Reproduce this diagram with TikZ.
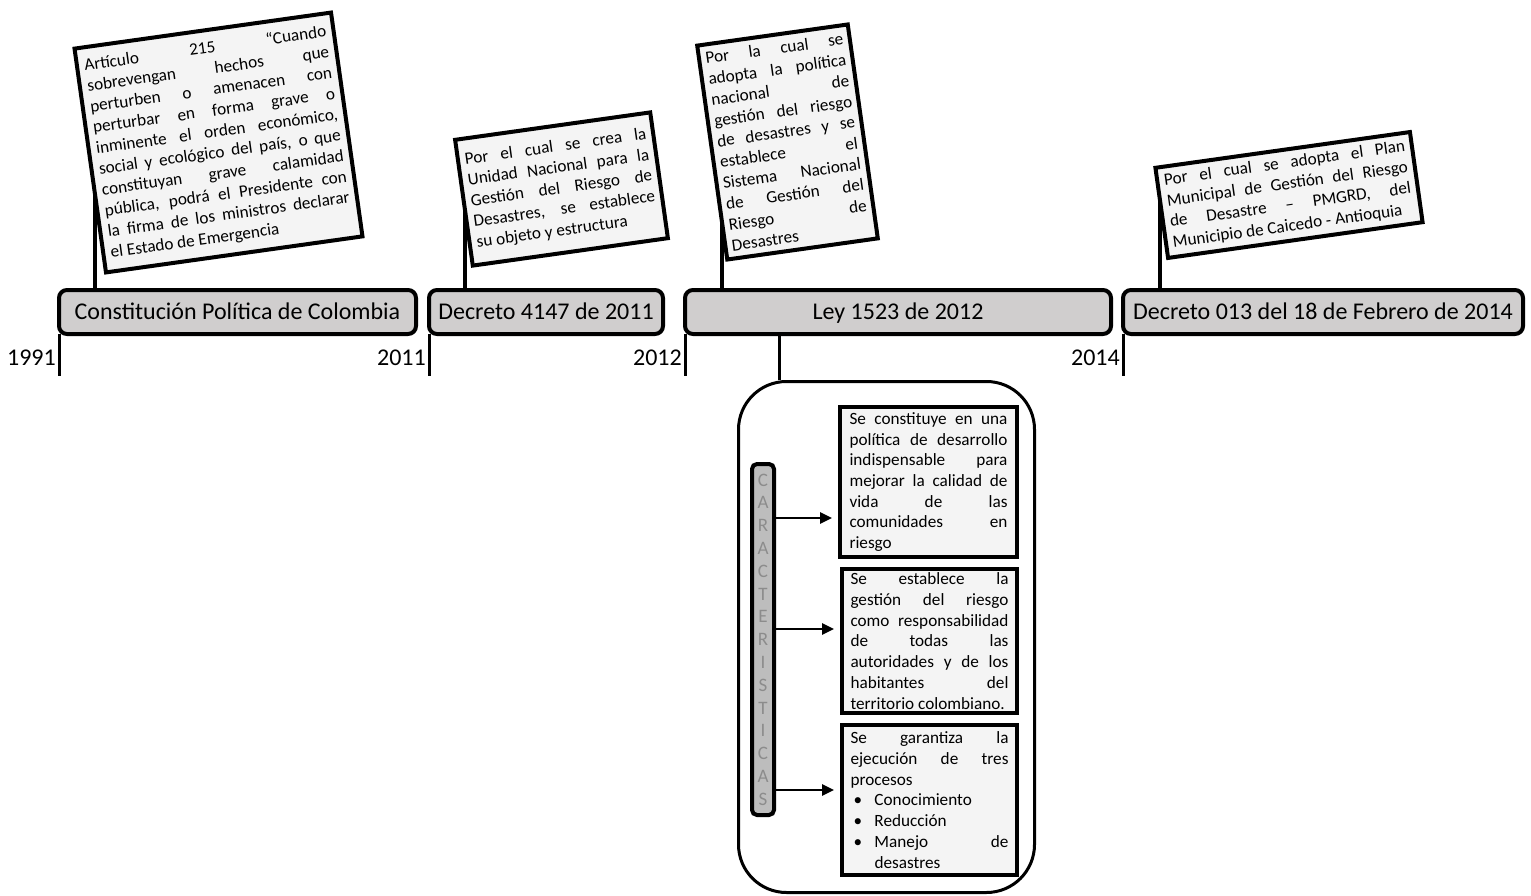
\documentclass[tikz,border=0pt]{standalone}
\usepackage{fontspec}
\setmainfont{Carlito}
\usetikzlibrary{arrows.meta}
\definecolor{gris}{HTML}{D0CECE}
\definecolor{claro}{HTML}{F4F4F4}
\definecolor{franjagris}{HTML}{BDBDBD}
\definecolor{letra}{HTML}{8C8C8C}
\tolerance=9999
\hbadness=10000
\hyphenpenalty=10000
\tikzset{
  periodo/.style={draw, line width=4pt, rounded corners=8pt, fill=gris, inner sep=0pt, outer sep=0pt, minimum height=44pt, text height=20pt, text depth=4.5pt, font=\fontsize{24}{29}\selectfont},
  anio/.style={anchor=east, inner sep=1pt, font=\fontsize{24}{29}\selectfont},
  marca/.style={line width=3pt},
  poste/.style={line width=3.5pt},
  nota/.style={draw, line width=4pt, fill=claro, rotate=8, align=justify, inner sep=0pt, font=\fontsize{17.2}{21}\selectfont},
  rasgo/.style={draw, line width=4pt, fill=claro, align=justify, inner sep=0pt, font=\fontsize{17.2}{20.7}\selectfont},
  flecha/.style={-{Triangle[length=12pt,width=11pt]}, line width=2.5pt, shorten >=6pt},
}
\newcommand{\vineta}[1]{\par\hangindent=24pt\hangafter=1\noindent\makebox[24pt][l]{\hspace{3pt}•}#1\par}
\begin{document}
\begin{tikzpicture}[x=1pt,y=-1pt]
\useasboundingbox (0,0) rectangle (1531,896);

% postes de las notas
\coordinate (t1) at (95,180);
\coordinate (t2) at (465,190);
\coordinate (t3) at (722,190);
\coordinate (t4) at (1160,180);
\draw[poste] (t1) -- (t1 |- 0,290);
\draw[poste] (t2) -- (t2 |- 0,290);
\draw[poste] (t3) -- (t3 |- 0,290);
\draw[poste] (t4) -- (t4 |- 0,290);

% notas
\node[nota, text width=244pt, minimum width=259pt, minimum height=226pt] (n1) at (218.5,142.5) {Artículo 215 “Cuando\linebreak
sobrevengan hechos que\linebreak
perturben o amenacen con\linebreak
perturbar en forma grave o\linebreak
inminente el orden económico,\linebreak
social y ecológico del país, o que\linebreak
constituyan grave calamidad\linebreak
pública, podrá el Presidente con\linebreak
la firma de los ministros declarar\linebreak
el Estado de Emergencia};
\node[nota, text width=183pt, minimum width=197pt, minimum height=127pt] (n2) at (561.5,189) {Por el cual se crea la\linebreak
Unidad Nacional para la\linebreak
Gestión del Riesgo de\linebreak
Desastres, se establece\linebreak
su objeto y estructura};
\node[nota, text width=139pt, minimum width=152pt, minimum height=216pt] (n3) at (787.5,142) {Por la cual se\linebreak
adopta la política\linebreak
nacional de\linebreak
gestión del riesgo\linebreak
de desastres y se\linebreak
establece el\linebreak
Sistema Nacional\linebreak
de Gestión del\linebreak
Riesgo de\linebreak
Desastres};
\node[nota, text width=243pt, minimum width=257pt, minimum height=91pt] (n4) at (1289,195) {Por el cual se adopta el Plan\linebreak
Municipal de Gestión del Riesgo\linebreak
de Desastre – PMGRD, del\linebreak
Municipio de Caicedo - Antioquia};

% linea de tiempo
\node[periodo, minimum width=357pt] (b1) at (237.5,312) {Constitución Política de Colombia};
\node[periodo, minimum width=234pt] (b2) at (546,312) {Decreto 4147 de 2011};
\node[periodo, minimum width=426pt] (b3) at (898,312) {Ley 1523 de 2012};
\node[periodo, minimum width=400pt] (b4) at (1323,312) {Decreto 013 del 18 de Febrero de 2014};

\coordinate (fin) at (0,376);
\draw[marca] (b1.south west) -- (b1.south west |- fin);
\draw[marca] (b2.south west) -- (b2.south west |- fin);
\draw[marca] (b3.south west) -- (b3.south west |- fin);
\draw[marca] (b4.south west) -- (b4.south west |- fin);
\node[anio] (a1) at (57,358) {1991};
\node[anio] (a2) at (427,358) {2011};
\node[anio] (a3) at (683,358) {2012};
\node[anio] (a4) at (1121,358) {2014};

% caracteristicas de la ley
\node[draw, line width=3pt, rounded corners=48pt, minimum width=296pt, minimum height=511pt] (marco) at (886.5,637) {};
\coordinate (ramal) at (779,0);
\draw[marca] (b3.south -| ramal) -- (marco.north -| ramal);

\node[draw, line width=4pt, rounded corners=5pt, fill=franjagris, text=letra, inner sep=0pt, minimum width=22pt, minimum height=351pt, align=center, font=\fontsize{19}{22.8}\selectfont] (franja) at (763,639.5) {C\\A\\R\\A\\C\\T\\E\\R\\I\\S\\T\\I\\C\\A\\S};

\node[rasgo, text width=158pt, minimum width=177pt, minimum height=150pt] (r1) at (928.5,482) {Se constituye en una\linebreak
política de desarrollo\linebreak
indispensable para\linebreak
mejorar la calidad de\linebreak
vida de las\linebreak
comunidades en\linebreak
riesgo};
\node[rasgo, text width=158pt, minimum width=175pt, minimum height=144pt] (r2) at (929.5,641) {Se establece la\linebreak
gestión del riesgo\linebreak
como responsabilidad\linebreak
de todas las\linebreak
autoridades y de los\linebreak
habitantes del\linebreak
territorio colombiano.};
\node[rasgo, text width=158pt, minimum width=175pt, minimum height=150pt] (r3) at (929.5,800) {Se garantiza la\linebreak
ejecución de tres\linebreak
procesos
\vineta{Conocimiento}
\vineta{Reducción}
\vineta{Manejo de\linebreak desastres}};

\coordinate (f1) at (0,518);
\coordinate (f2) at (0,629);
\coordinate (f3) at (0,790);
\draw[flecha] (franja.east |- f1) -- (r1.west |- f1);
\draw[flecha] (franja.east |- f2) -- (r2.west |- f2);
\draw[flecha] (franja.east |- f3) -- (r3.west |- f3);

\end{tikzpicture}
\end{document}
